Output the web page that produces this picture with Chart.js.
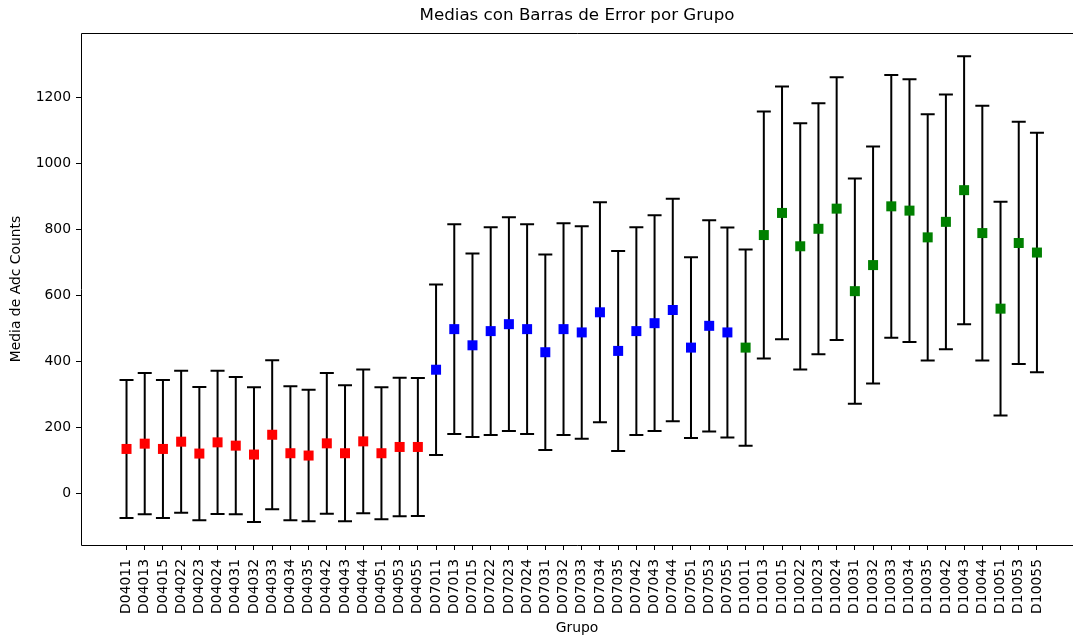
<!DOCTYPE html>
<html>
<head>
<meta charset="utf-8">
<script src="https://cdn.jsdelivr.net/npm/chart.js@4"></script>
<style>
  html, body { margin: 0; padding: 0; background: #fff; overflow: hidden; }
</style>
</head>
<body>
<canvas id="myChart" width="1073" height="637"></canvas>
<script>
const labels = [
  "D04011", "D04013", "D04015", "D04022", "D04023", "D04024", "D04031", "D04032", "D04033",
  "D04034", "D04035", "D04042", "D04043", "D04044", "D04051", "D04053", "D04055",
  "D07011", "D07013", "D07015", "D07022", "D07023", "D07024", "D07031", "D07032", "D07033",
  "D07034", "D07035", "D07042", "D07043", "D07044", "D07051", "D07053", "D07055",
  "D10011", "D10013", "D10015", "D10022", "D10023", "D10024", "D10031", "D10032", "D10033",
  "D10034", "D10035", "D10042", "D10043", "D10044", "D10051", "D10053", "D10055",
];
const means = [
  135, 151, 135, 157, 121, 155, 145, 118, 178, 122, 115, 152, 122, 158, 122, 141, 141,
  375, 498, 449, 492, 513, 498, 428, 498, 488, 549, 432, 492, 516, 556, 442, 508, 488,
  442, 783, 850, 749, 802, 863, 613, 692, 870, 857, 776, 823, 919, 789, 560, 759, 730,
];
const errors = [
  209, 214, 209, 215, 202, 217, 208, 204, 226, 203, 199, 213, 206, 218, 200, 210, 209,
  258, 318, 278, 315, 324, 318, 296, 321, 322, 333, 303, 315, 327, 337, 274, 320, 318,
  297, 374, 383, 373, 380, 398, 341, 359, 398, 398, 373, 386, 406, 386, 324, 367, 363,
];
const groups = ["D04", "D07", "D10"];
const groupColors = ["#ff0000", "#0000ff", "#008000"];
const yTicks = [0, 200, 400, 600, 800, 1000, 1200];

Chart.defaults.font.family = "'DejaVu Sans', sans-serif";
Chart.defaults.color = "#000";

const datasets = groups.map((g, k) => ({
  label: g,
  data: labels
    .map((l, i) => ({ x: i, y: means[i], err: errors[i], g: l.slice(0, 3) }))
    .filter((p) => p.g === g),
  backgroundColor: groupColors[k],
  borderColor: groupColors[k],
  pointStyle: "rect",
  pointRadius: 7.07,
  pointHoverRadius: 7.07,
  borderWidth: 0,
}));

// error bars with caps, drawn under the markers
const errorBars = {
  id: "errorBars",
  beforeDatasetsDraw(chart) {
    const { ctx, scales: { x, y } } = chart;
    ctx.save();
    ctx.strokeStyle = "#000";
    ctx.lineWidth = 2;
    chart.data.datasets.forEach((ds) => {
      ds.data.forEach((p) => {
        const px = x.getPixelForValue(p.x);
        const top = y.getPixelForValue(p.y + p.err);
        const bot = y.getPixelForValue(p.y - p.err);
        ctx.beginPath();
        ctx.moveTo(px, top);
        ctx.lineTo(px, bot);
        ctx.moveTo(px - 7, top);
        ctx.lineTo(px + 7, top);
        ctx.moveTo(px - 7, bot);
        ctx.lineTo(px + 7, bot);
        ctx.stroke();
      });
    });
    ctx.restore();
  },
};

// axes box: left, top and bottom (right spine falls outside the picture)
const frame = {
  id: "frame",
  afterDraw(chart) {
    const { ctx, chartArea: a } = chart;
    const l = Math.round(a.left) + 0.5, t = Math.round(a.top) + 0.5, b = Math.round(a.bottom) + 0.5;
    ctx.save();
    ctx.strokeStyle = "#000";
    ctx.lineWidth = 1;
    ctx.beginPath();
    ctx.moveTo(chart.width, t);
    ctx.lineTo(l, t);
    ctx.lineTo(l, b);
    ctx.lineTo(chart.width, b);
    ctx.stroke();
    ctx.restore();
  },
};

const noPadding = () => ({ left: 0, top: 0, right: 0, bottom: 0 });

const config = {
  type: "scatter",
  data: { datasets: datasets },
  plugins: [errorBars, frame],
  options: {
    responsive: false,
    animation: false,
    devicePixelRatio: 1,
    layout: { padding: 0, autoPadding: false },
    plugins: {
      legend: { display: false },
      tooltip: { enabled: false },
      title: {
        display: true,
        text: "Medias con Barras de Error por Grupo",
        fullSize: false,
        color: "#000",
        font: { size: 16.7, weight: "normal" },
        padding: { top: 6, bottom: 7 },
      },
    },
    scales: {
      x: {
        type: "linear",
        min: -2.5,
        max: 51.98,
        afterBuildTicks: (scale) => {
          scale.ticks = labels.map((_, i) => ({ value: i }));
        },
        afterFit: (scale) => {
          scale.height = 92;
          scale.paddingLeft = 0;
          scale.paddingRight = 0;
          scale.getPadding = noPadding;
        },
        ticks: {
          autoSkip: false,
          minRotation: 90,
          maxRotation: 90,
          padding: 9,
          font: { size: 13.9 },
          callback: (v) => labels[v],
        },
        grid: { drawOnChartArea: false, color: "#000", tickLength: 5 },
        border: { display: false },
        title: {
          display: true,
          text: "Grupo",
          font: { size: 13.9 },
          padding: { top: 0, bottom: 0 },
        },
      },
      y: {
        min: -156,
        max: 1395,
        afterBuildTicks: (scale) => {
          scale.ticks = yTicks.map((v) => ({ value: v }));
        },
        afterFit: (scale) => {
          scale.width = 81;
          scale.paddingTop = 0;
          scale.paddingBottom = 0;
          scale.getPadding = noPadding;
        },
        ticks: { padding: 5, font: { size: 13.9 }, callback: (v) => String(v) },
        grid: { drawOnChartArea: false, color: "#000", tickLength: 5 },
        border: { display: false },
        title: {
          display: true,
          text: "Media de Adc Counts",
          font: { size: 13.9 },
          padding: { top: 8, bottom: 0 },
        },
      },
    },
  },
};

const ctx = document.getElementById("myChart").getContext("2d");
new Chart(ctx, config);
</script>
</body>
</html>
